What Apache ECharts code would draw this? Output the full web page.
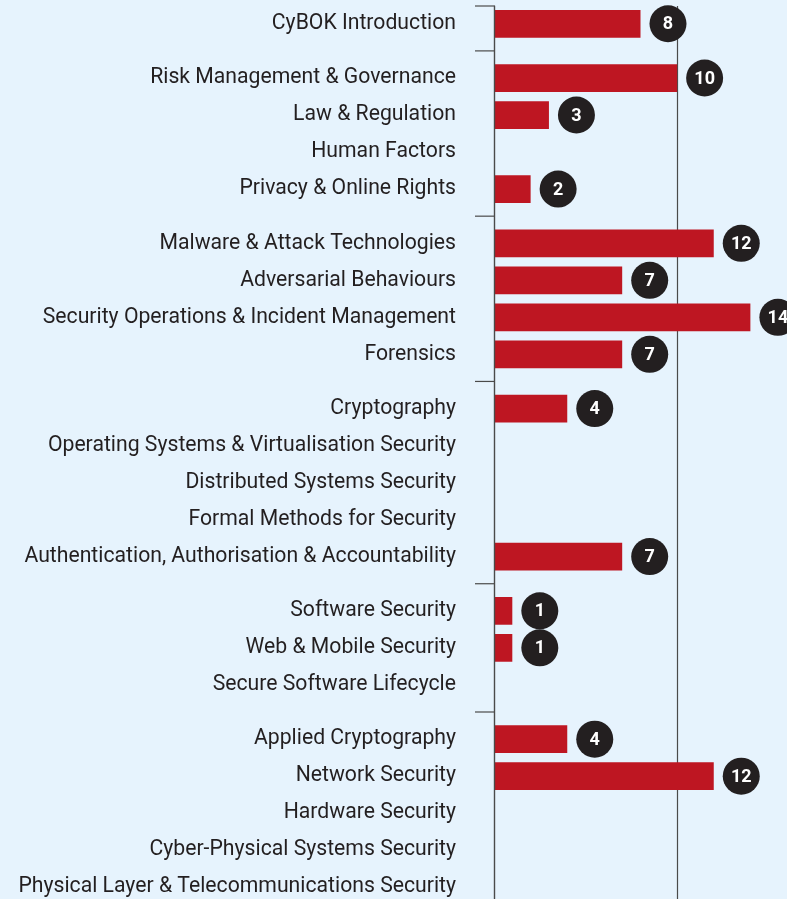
<!DOCTYPE html>
<html>
<head>
<meta charset="utf-8">
<script src="https://cdn.jsdelivr.net/npm/echarts@6/dist/echarts.min.js"></script>
<style>
  html, body { margin: 0; padding: 0; background: #e6f3fd; }
  #chart { width: 787px; height: 899px; }
</style>
</head>
<body>
<div id="chart"></div>
<script>
// topics, in order from top to bottom
const topics = [
  'CyBOK Introduction',
  'Risk Management & Governance',
  'Law & Regulation',
  'Human Factors',
  'Privacy & Online Rights',
  'Malware & Attack Technologies',
  'Adversarial Behaviours',
  'Security Operations & Incident Management',
  'Forensics',
  'Cryptography',
  'Operating Systems & Virtualisation Security',
  'Distributed Systems Security',
  'Formal Methods for Security',
  'Authentication, Authorisation & Accountability',
  'Software Security',
  'Web & Mobile Security',
  'Secure Software Lifecycle',
  'Applied Cryptography',
  'Network Security',
  'Hardware Security',
  'Cyber-Physical Systems Security',
  'Physical Layer & Telecommunications Security'
];
const counts = [8, 10, 3, 0, 2, 12, 7, 14, 7, 4, 0, 0, 0, 7, 1, 1, 0, 4, 12, 0, 0, 0];
// how many topics in each block
const groupSizes = [1, 4, 4, 5, 3, 5];

const GAP = 0.466;   // extra space between blocks, in rows
const Y_MIN = -0.48;
const Y_MAX = 23.65;

const RED = '#be1622';
const DARK = '#231f20';
const LINE = '#4a4a4a';

// row position of each topic
const positions = [];
let idx = 0;
groupSizes.forEach((size, g) => {
  for (let k = 0; k < size; k++) {
    positions.push(idx + g * GAP);
    idx++;
  }
});

// block separators: top edge and halfway between blocks
const separators = [Y_MIN];
let start = 0;
for (let g = 1; g < groupSizes.length; g++) {
  start += groupSizes[g - 1];
  separators.push((positions[start - 1] + positions[start]) / 2);
}

const chart = echarts.init(document.getElementById('chart'), null, { renderer: 'canvas' });

const option = {
  backgroundColor: '#e6f3fd',
  animation: false,
  grid: { left: 494, top: 6, right: 0, bottom: 0 },
  xAxis: {
    type: 'value',
    min: 0,
    max: 16,
    interval: 10,
    axisLine: { show: false },
    axisTick: { show: false },
    axisLabel: { show: false },
    splitLine: {
      show: true,
      showMinLine: false,
      showMaxLine: false,
      lineStyle: { color: LINE, width: 1.2 }
    }
  },
  yAxis: {
    type: 'value',
    inverse: true,
    min: Y_MIN,
    max: Y_MAX,
    z: 5,
    axisLine: { show: true, lineStyle: { color: LINE, width: 1.4 } },
    axisTick: { show: false },
    axisLabel: { show: false },
    splitLine: { show: false }
  },
  series: [
    {
      // bars with the round count badge
      type: 'custom',
      silent: true,
      encode: { x: 0, y: 1 },
      data: counts.map((c, i) => [c, positions[i]]),
      renderItem: (params, api) => {
        const v = api.value(0);
        if (!v) return null;
        const p = api.value(1);
        const s = api.coord([0, p]);
        const e = api.coord([v, p]);
        const h = api.size([0, 0.75])[1];
        const r = 18.5;
        const cx = e[0] + 9 + r;
        return {
          type: 'group',
          children: [
            {
              type: 'rect',
              shape: { x: s[0], y: s[1] - h / 2, width: e[0] - s[0], height: h },
              style: { fill: RED }
            },
            {
              type: 'circle',
              shape: { cx: cx, cy: s[1], r: r },
              style: { fill: DARK }
            },
            {
              type: 'text',
              style: {
                text: String(v),
                x: cx,
                y: s[1] + 1,
                align: 'center',
                verticalAlign: 'middle',
                textAlign: 'center',
                textVerticalAlign: 'middle',
                fill: '#ffffff',
                font: 'bold 18px Roboto, "DejaVu Sans", sans-serif'
              }
            }
          ]
        };
      }
    },
    {
      // topic names
      type: 'custom',
      silent: true,
      encode: { x: 0, y: 1 },
      data: topics.map((t, i) => [0, positions[i]]),
      renderItem: (params, api) => {
        const pt = api.coord([0, api.value(1)]);
        return {
          type: 'text',
          style: {
            text: topics[params.dataIndex],
            x: pt[0] - 38,
            y: pt[1],
            align: 'right',
            verticalAlign: 'middle',
            textAlign: 'right',
            textVerticalAlign: 'middle',
            fill: DARK,
            font: '21.2px Roboto, "Noto Sans", sans-serif'
          }
        };
      }
    },
    {
      // short ticks marking the blocks
      type: 'custom',
      silent: true,
      encode: { x: 0, y: 1 },
      data: separators.map(s => [0, s]),
      renderItem: (params, api) => {
        const pt = api.coord([0, api.value(1)]);
        return {
          type: 'line',
          shape: { x1: pt[0] - 19, y1: pt[1], x2: pt[0], y2: pt[1] },
          style: { stroke: LINE, lineWidth: 1.2 }
        };
      }
    }
  ]
};

chart.setOption(option);
</script>
</body>
</html>
